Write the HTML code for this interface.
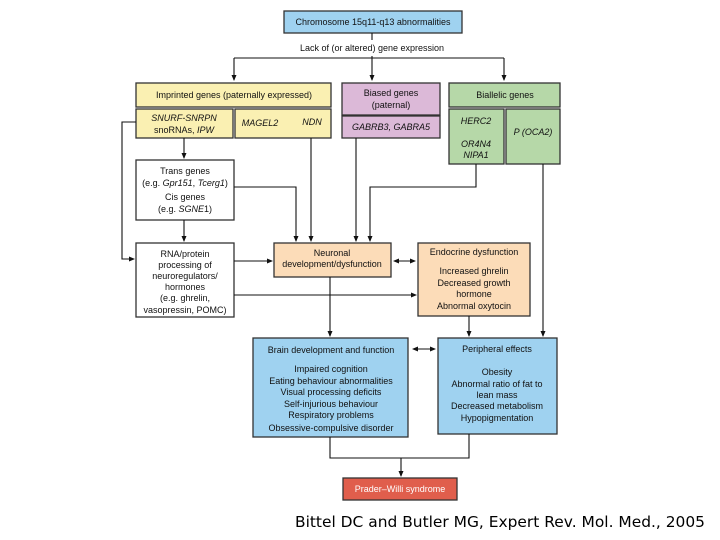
<!DOCTYPE html>
<html><head><meta charset="utf-8"><style>
html,body{margin:0;padding:0;background:#fff;width:720px;height:540px;overflow:hidden}
svg{display:block}
text{font-family:"Liberation Sans",Arial,sans-serif;font-size:9px;fill:#111;text-anchor:middle}
.i{font-style:italic}
</style></head><body>
<svg width="720" height="540" viewBox="0 0 720 540" xmlns="http://www.w3.org/2000/svg">
<defs><marker id="a" markerWidth="6" markerHeight="6" refX="5" refY="3" orient="auto" markerUnits="userSpaceOnUse"><path d="M0,0.5 L6,3 L0,5.5 z" fill="#111"/></marker>
<marker id="s" markerWidth="6" markerHeight="6" refX="1" refY="3" orient="auto" markerUnits="userSpaceOnUse"><path d="M6,0.5 L0,3 L6,5.5 z" fill="#111"/></marker></defs>
<g stroke="#333" stroke-width="1.3">
<rect x="284" y="11" width="178" height="22" fill="#9fd2f0"/>
<rect x="136" y="83" width="195" height="24" fill="#faf0b2"/>
<rect x="136" y="109" width="97" height="29" fill="#faf0b2"/>
<rect x="235" y="109" width="96" height="29" fill="#faf0b2"/>
<rect x="342" y="83" width="98" height="32" fill="#dcb9d8"/>
<rect x="342" y="116" width="98" height="22" fill="#dcb9d8"/>
<rect x="449" y="83" width="111" height="24" fill="#b6d8a8"/>
<rect x="449" y="109" width="55" height="55" fill="#b6d8a8"/>
<rect x="506" y="109" width="54" height="55" fill="#b6d8a8"/>
<rect x="136" y="160" width="98" height="60" fill="#fff"/>
<rect x="136" y="243" width="98" height="74" fill="#fff"/>
<rect x="274" y="243" width="117" height="34" fill="#fcdcb8"/>
<rect x="418" y="243" width="112" height="73" fill="#fcdcb8"/>
<rect x="253" y="338" width="155" height="99" fill="#9fd2f0"/>
<rect x="438" y="338" width="119" height="96" fill="#9fd2f0"/>
<rect x="343" y="478" width="114" height="22" fill="#e05e4c"/>
</g>
<g stroke="#111" stroke-width="1.1" fill="none">
<path d="M372,33 V40"/><path d="M372,56 V58"/>
<path d="M234,58 H504"/>
<path d="M234,58 V80" marker-end="url(#a)"/><path d="M372,58 V80" marker-end="url(#a)"/><path d="M504,58 V80" marker-end="url(#a)"/>
<path d="M136,122 H122 V259 H134" marker-end="url(#a)"/>
<path d="M184,138 V158" marker-end="url(#a)"/>
<path d="M184,220 V241" marker-end="url(#a)"/>
<path d="M234,187 H296 V241" marker-end="url(#a)"/>
<path d="M311,138 V241" marker-end="url(#a)"/>
<path d="M356,138 V241" marker-end="url(#a)"/>
<path d="M476,164 V187 H370 V241" marker-end="url(#a)"/>
<path d="M543,164 V336" marker-end="url(#a)"/>
<path d="M234,261 H272" marker-end="url(#a)"/>
<path d="M234,295 H416" marker-end="url(#a)"/>
<path d="M394,261 H415" marker-start="url(#s)" marker-end="url(#a)"/>
<path d="M330,277 V336" marker-end="url(#a)"/>
<path d="M469,316 V336" marker-end="url(#a)"/>
<path d="M413,349 H435" marker-start="url(#s)" marker-end="url(#a)"/>
<path d="M330,437 V458 H469 V434"/>
<path d="M401,458 V476" marker-end="url(#a)"/>
</g>
<text x="373" y="25">Chromosome 15q11-q13 abnormalities</text>
<text x="372" y="51">Lack of (or altered) gene expression</text>
<text x="234" y="98">Imprinted genes (paternally expressed)</text>
<text x="184" y="121" class="i">SNURF-SNRPN</text>
<text x="184" y="133">snoRNAs, <tspan class="i">IPW</tspan></text>
<text x="260" y="126" class="i">MAGEL2</text>
<text x="312" y="125" class="i">NDN</text>
<text x="391" y="96">Biased genes</text>
<text x="391" y="108">(paternal)</text>
<text x="391" y="130" class="i">GABRB3, GABRA5</text>
<text x="505" y="98">Biallelic genes</text>
<text x="476" y="124" class="i">HERC2</text>
<text x="476" y="147" class="i">OR4N4</text>
<text x="476" y="158" class="i">NIPA1</text>
<text x="533" y="135" class="i">P (OCA2)</text>
<text x="185" y="174">Trans genes</text>
<text x="185" y="186">(e.g. <tspan class="i">Gpr151</tspan>, <tspan class="i">Tcerg1</tspan>)</text>
<text x="185" y="200">Cis genes</text>
<text x="185" y="212">(e.g. <tspan class="i">SGNE</tspan>1)</text>
<text x="185" y="257">RNA/protein</text>
<text x="185" y="268">processing of</text>
<text x="185" y="279">neuroregulators/</text>
<text x="185" y="290">hormones</text>
<text x="185" y="301">(e.g. ghrelin,</text>
<text x="185" y="313">vasopressin, POMC)</text>
<text x="332" y="256">Neuronal</text>
<text x="332" y="267">development/dysfunction</text>
<text x="474" y="255">Endocrine dysfunction</text>
<text x="474" y="274">Increased ghrelin</text>
<text x="474" y="286">Decreased growth</text>
<text x="474" y="297">hormone</text>
<text x="474" y="309">Abnormal oxytocin</text>
<text x="331" y="353">Brain development and function</text>
<text x="331" y="372">Impaired cognition</text>
<text x="331" y="384">Eating behaviour abnormalities</text>
<text x="331" y="395">Visual processing deficits</text>
<text x="331" y="407">Self-injurious behaviour</text>
<text x="331" y="418">Respiratory problems</text>
<text x="331" y="431">Obsessive-compulsive disorder</text>
<text x="497" y="352">Peripheral effects</text>
<text x="497" y="375">Obesity</text>
<text x="497" y="387">Abnormal ratio of fat to</text>
<text x="497" y="398">lean mass</text>
<text x="497" y="409">Decreased metabolism</text>
<text x="497" y="421">Hypopigmentation</text>
<text x="400" y="492" style="fill:#fff">Prader–Willi syndrome</text>
<text x="500" y="527" textLength="410" lengthAdjust="spacingAndGlyphs" style="font-family:'DejaVu Sans',sans-serif;font-size:15px;fill:#000">Bittel DC and Butler MG, Expert Rev. Mol. Med., 2005</text>
</svg>
</body></html>
